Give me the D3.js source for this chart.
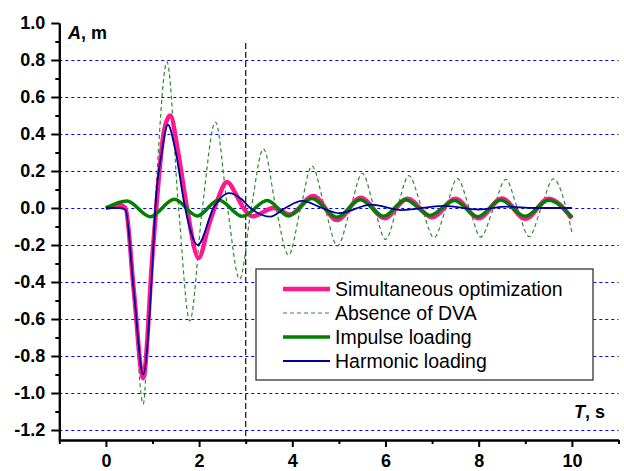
<!DOCTYPE html>
<html>
<head>
  <meta charset="utf-8">
  <style>
    html, body { margin: 0; padding: 0; background: #fff; }
    svg { display: block; font-family: "Liberation Sans", Arial, sans-serif; }
    .axis path, .axis line { stroke: #000; stroke-width: 2; }
    .grid line { stroke: #0000ff; stroke-width: 1; stroke-dasharray: 3,3; }
  </style>
  <script src="https://d3js.org/d3.v7.min.js"></script>
</head>
<body>
  <div id="chart"></div>
  <script>
    // time (s) and amplitude (m) at extrema and zero crossings
    const simT = [0, 0.15, 0.3, 0.42, 0.6, 0.8, 1.0, 1.08, 1.25, 1.38, 1.55, 1.74, 1.99, 2.2, 2.39, 2.6, 2.8, 2.95, 3.15, 3.6, 3.95, 4.45, 4.96, 5.47, 5.98, 6.47, 7.0, 7.5, 8.0, 8.5, 9.0, 9.5, 10.0];
    const simV = [0, 0.008, 0.015, 0.0, -0.45, -0.92, -0.25, 0, 0.42, 0.5, 0.3, 0, -0.27, -0.1, 0.04, 0.14, 0.07, 0, -0.045, 0.0, -0.035, 0.065, -0.065, 0.055, -0.055, 0.05, -0.05, 0.05, -0.055, 0.052, -0.058, 0.05, -0.056];

    const noDvaT = [0, 0.3, 0.42, 0.6, 0.8, 0.95, 1.05, 1.31, 1.56, 1.8, 2.07, 2.35, 2.61, 2.87, 3.12, 3.38, 3.65, 3.92, 4.18, 4.42, 4.7, 4.97, 5.25, 5.5, 5.76, 6.0, 6.25, 6.5, 6.78, 7.04, 7.3, 7.54, 7.8, 8.04, 8.32, 8.58, 8.83, 9.08, 9.34, 9.6, 10.0];
    const noDvaV = [0, 0.01, 0, -0.5, -1.06, -0.4, 0, 0.79, 0, -0.61, 0, 0.465, 0, -0.385, 0, 0.32, 0, -0.254, 0, 0.227, 0, -0.205, 0, 0.187, 0, -0.17, 0, 0.175, 0, -0.16, 0, 0.16, 0, -0.157, 0, 0.155, 0, -0.155, 0, 0.157, -0.13];

    const impulseT = [0, 0.45, 0.95, 1.47, 1.96, 2.42, 2.93, 3.46, 3.92, 4.42, 4.96, 5.46, 5.96, 6.43, 6.95, 7.48, 7.98, 8.47, 9.0, 9.5, 10.0];
    const impulseV = [0, 0.038, -0.047, 0.047, -0.043, 0.043, -0.045, 0.04, -0.043, 0.052, -0.05, 0.045, -0.045, 0.045, -0.04, 0.04, -0.047, 0.043, -0.045, 0.042, -0.05];

    const harmT = [0, 0.3, 0.42, 0.6, 0.8, 1.0, 1.06, 1.2, 1.33, 1.5, 1.7, 1.97, 2.31, 2.64, 2.9, 3.1, 3.53, 3.85, 4.21, 4.64, 5.0, 5.7, 6.35, 7.25, 8.0, 8.6, 9.2, 10.0];
    const harmV = [0, 0.0, -0.01, -0.45, -0.9, -0.3, 0, 0.3, 0.45, 0.3, 0, -0.2, 0, 0.08, 0.05, 0, -0.047, 0, 0.038, 0, -0.028, 0.018, -0.011, 0.012, -0.008, 0.007, 0, 0];

    const seriesNames = ["Simultaneous optimization", "Absence of DVA", "Impulse loading", "Harmonic loading"];
    const xTickValues = [0, 2, 4, 6, 8, 10];
    const xMinorValues = [-1, 1, 3, 5, 7, 9, 11];
    const yTickValues = [-1.2, -1.0, -0.8, -0.6, -0.4, -0.2, 0.0, 0.2, 0.4, 0.6, 0.8, 1.0];
    const yMinorValues = [-1.1, -0.9, -0.7, -0.5, -0.3, -0.1, 0.1, 0.3, 0.5, 0.7, 0.9];
    const gridValues = [-1.2, -1.0, -0.8, -0.6, -0.4, -0.2, 0.0, 0.2, 0.4, 0.6, 0.8];
    const markerT = 3;

    const width = 624, height = 471;
    const font = "'Liberation Sans', Arial, sans-serif";
    const x = d3.scaleLinear().domain([-1, 11]).range([59.3, 618.5]);
    const y = d3.scaleLinear().domain([-1.254, 1.0]).range([440, 23]);

    const svg = d3.select("#chart").append("svg")
      .attr("width", width)
      .attr("height", height);

    // dashed horizontal grid
    svg.append("g").attr("class", "grid")
      .selectAll("line")
      .data(gridValues)
      .enter().append("line")
      .attr("x1", x(-1)).attr("x2", x(11))
      .attr("y1", d => Math.round(y(d)) + 0.5).attr("y2", d => Math.round(y(d)) + 0.5);

    // vertical marker at T = 3 s
    svg.append("line")
      .attr("x1", x(markerT)).attr("x2", x(markerT))
      .attr("y1", 43).attr("y2", y(-1.254))
      .attr("stroke", "#222").attr("stroke-width", 1.3)
      .attr("stroke-dasharray", "6,3");

    const line = d3.line()
      .x(d => x(d[0]))
      .y(d => y(d[1]))
      .curve(d3.curveMonotoneX);

    const zip = (t, v) => t.map((d, i) => [d, v[i]]);

    const styles = [
      { data: zip(simT, simV), color: "#ff1a8c", width: 4.5, dash: null },
      { data: zip(noDvaT, noDvaV), color: "#2e8b2e", width: 1.2, dash: "4,3" },
      { data: zip(impulseT, impulseV), color: "#008000", width: 3.5, dash: null },
      { data: zip(harmT, harmV), color: "#000099", width: 1.8, dash: null }
    ];

    // draw order: dashed first, then pink, green, blue on top
    [1, 0, 2, 3].forEach(i => {
      const s = styles[i];
      svg.append("path")
        .datum(s.data)
        .attr("fill", "none")
        .attr("stroke", s.color)
        .attr("stroke-width", s.width)
        .attr("stroke-linejoin", "round")
        .attr("stroke-dasharray", s.dash)
        .attr("d", line);
    });

    const fmt = d => d.toFixed(1);

    function styleLabels(g) {
      g.attr("font-family", font).attr("font-size", 18);
      g.selectAll("text")
        .style("font-family", font)
        .style("font-size", "18px")
        .style("font-weight", "bold")
        .attr("fill", "#000");
    }

    // axes
    svg.append("g").attr("class", "axis")
      .attr("transform", `translate(0,${y(-1.254)})`)
      .call(d3.axisBottom(x).tickValues(xTickValues).tickSizeInner(7).tickSizeOuter(0).tickPadding(7).tickFormat(d => String(d)))
      .call(styleLabels);
    svg.append("g").attr("class", "axis")
      .attr("transform", `translate(0,${y(-1.254)})`)
      .call(d3.axisBottom(x).tickValues(xMinorValues).tickSizeInner(4).tickSizeOuter(0).tickFormat(""));

    svg.append("g").attr("class", "axis")
      .attr("transform", `translate(${x(-1)},0)`)
      .call(d3.axisLeft(y).tickValues(yTickValues).tickSizeInner(8).tickSizeOuter(0).tickPadding(6).tickFormat(fmt))
      .call(styleLabels);
    svg.append("g").attr("class", "axis")
      .attr("transform", `translate(${x(-1)},0)`)
      .call(d3.axisLeft(y).tickValues(yMinorValues).tickSizeInner(4).tickSizeOuter(0).tickFormat(""));

    // axis titles
    const yTitle = svg.append("text")
      .attr("x", 68).attr("y", 39)
      .style("font-family", font).style("font-size", "18px").style("font-weight", "bold");
    yTitle.append("tspan").style("font-style", "italic").text("A");
    yTitle.append("tspan").text(", m");

    const xTitle = svg.append("text")
      .attr("x", 605).attr("y", 418)
      .attr("text-anchor", "end")
      .style("font-family", font).style("font-size", "18px").style("font-weight", "bold");
    xTitle.append("tspan").style("font-style", "italic").text("T");
    xTitle.append("tspan").text(", s");

    // legend
    const legend = svg.append("g");
    legend.append("rect")
      .attr("x", 256).attr("y", 269)
      .attr("width", 337).attr("height", 111)
      .attr("fill", "#fff").attr("stroke", "#333").attr("stroke-width", 1.3);

    const rowY = d3.scaleLinear().domain([0, 3]).range([289, 361]);
    seriesNames.forEach((name, i) => {
      const s = styles[i];
      legend.append("line")
        .attr("x1", 283).attr("x2", 330)
        .attr("y1", rowY(i)).attr("y2", rowY(i))
        .attr("stroke", s.color)
        .attr("stroke-width", s.width)
        .attr("stroke-dasharray", s.dash);
      legend.append("text")
        .attr("x", 335).attr("y", rowY(i))
        .attr("dy", "0.35em")
        .style("font-family", font).style("font-size", "19.5px")
        .attr("fill", "#000")
        .text(name);
    });
  </script>
</body>
</html>
